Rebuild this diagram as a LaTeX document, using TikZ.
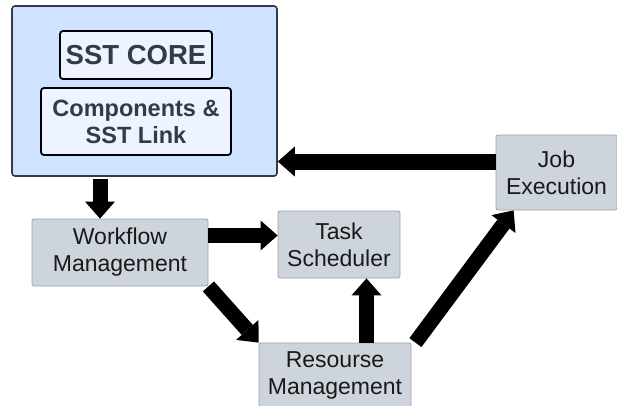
\documentclass[tikz,border=0pt]{standalone}
\usepackage{fontspec}
\setmainfont{Liberation Sans}
\usetikzlibrary{arrows.meta}
\definecolor{coreblue}{HTML}{CFE2FF}
\definecolor{innerblue}{HTML}{EDF4FF}
\definecolor{boxgray}{HTML}{CED4DB}
\definecolor{edgegray}{HTML}{9DA3AA}
\definecolor{slate}{HTML}{333B45}
\begin{document}
\begin{tikzpicture}[x=1pt,y=-1pt,
        graybox/.style={draw=edgegray,line width=0.8pt,fill=boxgray,rounded corners=2pt,
            align=center,inner sep=0pt,text=black!90,font=\fontsize{23}{27}\selectfont},
        innerbox/.style={draw=black,line width=1.8pt,fill=innerblue,rounded corners=3pt,
            align=center,inner sep=0pt,text=slate},
        fatarrow/.style={line width=15pt,-{Triangle[width=30pt,length=17pt,line width=0pt]}}]
            \useasboundingbox (0,0) rectangle (617,405);

            \node[draw=slate,line width=1.6pt,fill=coreblue,rounded corners=3pt,
                minimum width=265pt,minimum height=170pt] (sst) at (144.5,91) {};
            \node[innerbox,minimum width=152pt,minimum height=48pt,
                font=\fontsize{27.5}{32}\selectfont\bfseries] (core) at (136,55) {SST CORE};
            \node[innerbox,minimum width=190pt,minimum height=67pt,
                font=\fontsize{23.5}{27}\selectfont\bfseries] (comp) at (136,121.5) {Components \&\\SST Link};

            \node[graybox,minimum width=121pt,minimum height=75pt] (job) at (556.5,172.5) {Job\\Execution};
            \node[graybox,minimum width=176pt,minimum height=67pt] (workflow) at (120,252.5) {Workflow\\Management};
            \node[graybox,minimum width=122pt,minimum height=67pt] (task) at (339,244.5) {Task\\Scheduler};
            \node[graybox,minimum width=152pt,minimum height=64pt] (resource) at (335,375) {Resourse\\Management};

            \draw[fatarrow,shorten <=2pt] ([xshift=-44.5pt]sst.south) -- ([xshift=-44.5pt]sst.south |- workflow.north);
            \draw[fatarrow] ([yshift=17pt]workflow.east) -- ([yshift=17pt]workflow.east -| task.west);
            \draw[fatarrow] (workflow.south east) -- (resource.north west);
            \draw[fatarrow] ([xshift=31.5pt]resource.north) -- ([xshift=31.5pt]resource.north |- task.south);
            \draw[fatarrow] ([xshift=4pt]resource.north east) -- ([xshift=18pt]job.south west);
            \draw[fatarrow,line width=16pt] ([yshift=11pt]job.west) -- ([yshift=11pt]job.west -| sst.east);
\end{tikzpicture}
\end{document}
